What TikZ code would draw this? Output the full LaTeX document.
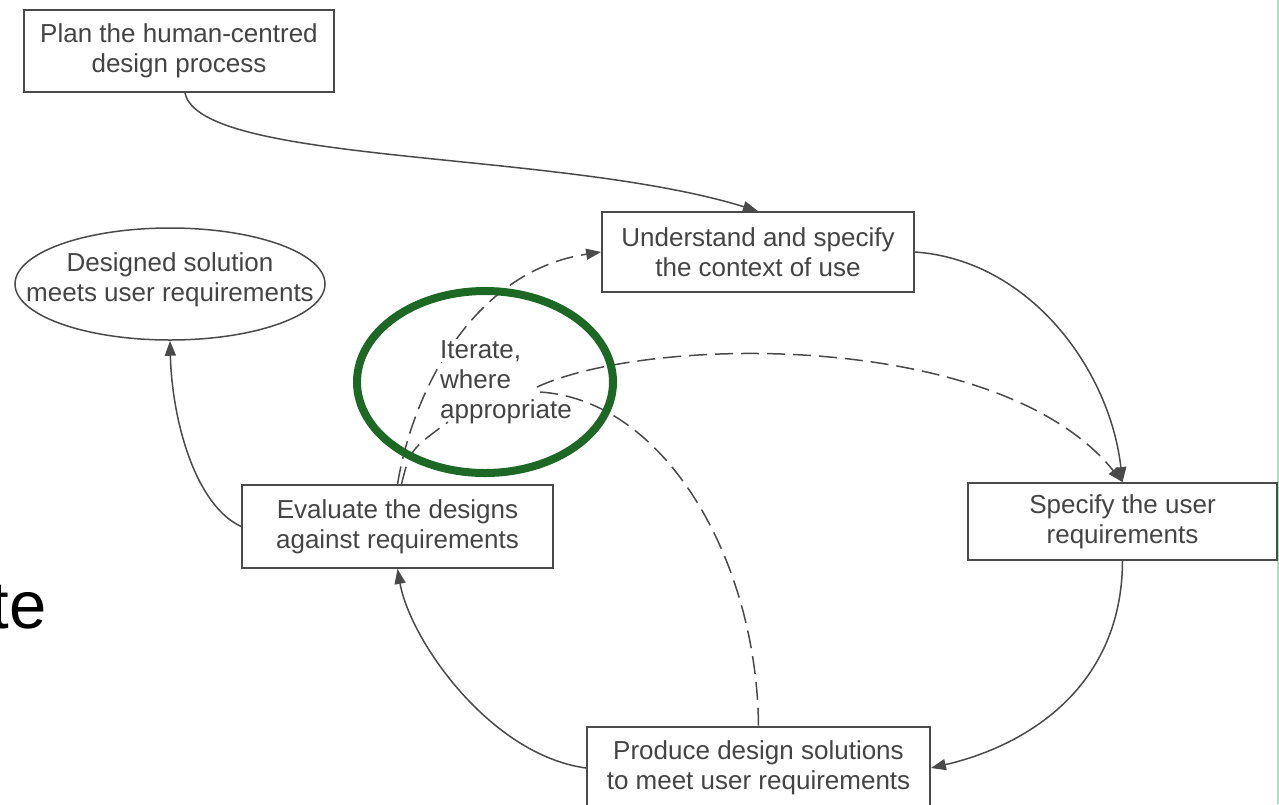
\documentclass[tikz,border=0pt]{standalone}
\usepackage{fontspec}
\setmainfont{Liberation Sans}
\usetikzlibrary{arrows.meta,shapes.geometric}
\definecolor{txt}{HTML}{444444}
\definecolor{edge}{HTML}{4A4A4A}
\definecolor{iter}{RGB}{28,104,36}
\definecolor{rim}{RGB}{165,225,195}
\tikzset{
  box/.style={draw=edge, line width=1.8pt, fill=white, text=txt, align=center,
    inner sep=0pt, font=\fontsize{26}{30}\selectfont},
  conn/.style={draw=edge, line width=1.5pt},
  arr/.style={conn, -{Triangle[length=15pt,width=11pt]}},
  dashconn/.style={conn, dash pattern=on 18pt off 8pt},
  lbl/.style={text=txt, inner sep=0pt, align=center, font=\fontsize{26}{30}\selectfont},
  itlbl/.style={text=txt, inner sep=1pt, anchor=base west, font=\fontsize{26}{30}\selectfont}
}
\begin{document}
\begin{tikzpicture}[x=1pt,y=-1pt]
\useasboundingbox (0,0) rectangle (1279,804);
\fill[white] (0,0) rectangle (1279,804);
\draw[rim, line width=1.5pt] (1278,0) -- (1278,804);
% large partial text at left edge
\node[anchor=base east, inner sep=0pt, text=black, font=\fontsize{67}{80}\selectfont] (te) at (47,628) {te};
% boxes
\node[box, minimum width=310pt, minimum height=82pt] (plan) at (179,51) {Plan the human-centred\\design process};
\node[box, minimum width=312pt, minimum height=80pt] (under) at (758,252) {Understand and specify\\the context of use};
\node[box, minimum width=309pt, minimum height=77pt] (spec) at (1122.5,521.5) {Specify the user\\requirements};
\node[box, minimum width=311pt, minimum height=83pt] (eval) at (397.5,526.5) {Evaluate the designs\\against requirements};
\node[box, minimum width=343pt, minimum height=82pt] (prod) at (758.5,768) {Produce design solutions\\to meet user requirements};
\node[ellipse, draw=edge, line width=1.5pt, minimum width=310pt, minimum height=112pt, inner sep=0pt] (done) at (170,284) {};
\node[lbl] (donetext) at (170,280) {Designed solution\\meets user requirements};
\coordinate (bend) at (448,422);
\coordinate (cstart) at (537,387);
\coordinate (dstart) at (540,392);
% solid connectors
\draw[arr] ([xshift=6pt]plan.south) .. controls (200,165) and (560,150) .. (under.north);
\draw[arr] (under.east) .. controls (1030,260) and (1110,370) .. (spec.north);
\draw[arr] (spec.south) .. controls (1122,685) and (1030,745) .. (prod.east);
\draw[arr] (prod.west) .. controls (490,755) and (410,640) .. (eval.south);
\draw[arr] (eval.west) .. controls (195,505) and (172,420) .. (done.south);
% dashed connectors
\draw[dashconn, -{Triangle[length=15pt,width=11pt]}] (eval.north) .. controls (415,380) and (480,270) .. (under.west);
\draw[dashconn] ([xshift=4pt]eval.north) .. controls (410,450) .. (bend);
\draw[dashconn, -{Triangle[length=15pt,width=11pt]}] (cstart) .. controls (650,335) and (1000,330) .. (spec.north);
\draw[dashconn] (dstart) .. controls (665,400) and (757,560) .. (prod.north);
% iterate label (line backgrounds hide the crossing dashes)
\node[itlbl, fill=white] (it1) at (439,358) {Iterate,};
\node[itlbl] (it2) at (439,388) {where};
\node[itlbl] (it3) at (439,418) {appropriate};
% iterate ring drawn on top
\draw[iter, line width=8pt] (485,382) ellipse (128 and 91);
\end{tikzpicture}
\end{document}
